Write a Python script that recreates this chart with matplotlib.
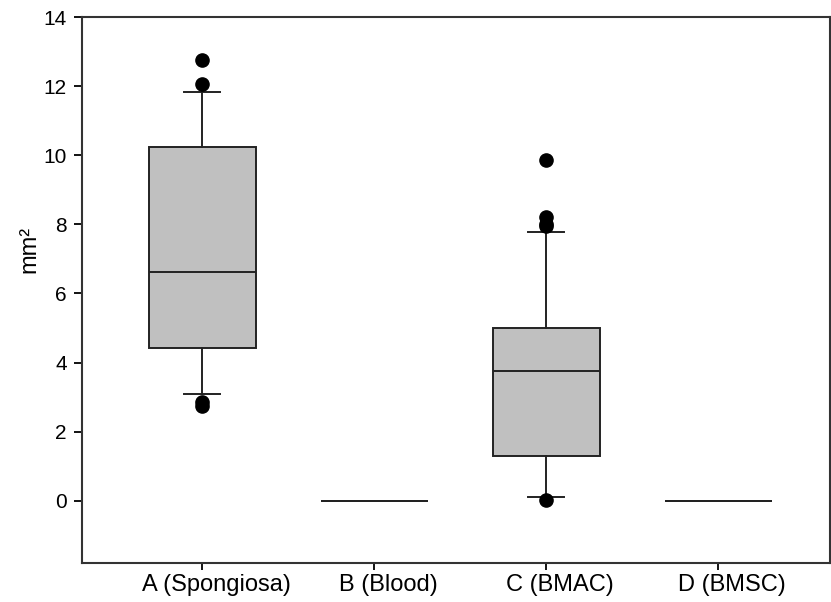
import matplotlib.pyplot as plt
import matplotlib.transforms as mtransforms

plt.rcParams['font.family'] = ['Liberation Sans', 'DejaVu Sans']

# groups and box statistics
groups = ['A (Spongiosa)', 'B (Blood)', 'C (BMAC)', 'D (BMSC)']
q1 = [4.42, 0.0, 1.29, 0.0]
median = [6.62, 0.0, 3.77, 0.0]
q3 = [10.23, 0.0, 5.0, 0.0]
whis_lo = [3.09, 0.0, 0.10, 0.0]
whis_hi = [11.82, 0.0, 7.77, 0.0]
outliers = [[12.75, 12.06, 2.85, 2.74], [], [9.87, 8.22, 8.02, 7.95, 0.02], []]

stats = []
for i, g in enumerate(groups):
    stats.append({'label': g, 'q1': q1[i], 'med': median[i], 'q3': q3[i],
                  'whislo': whis_lo[i], 'whishi': whis_hi[i], 'fliers': outliers[i]})

fig = plt.figure(figsize=(8.31, 6.02), dpi=100)
ax = fig.add_axes([82 / 831, 1 - 563 / 602, 748 / 831, (563 - 17) / 602])

# the all-zero groups only get a flat line, no whiskers or caps
show = [len(o) > 0 or q3[i] > q1[i] for i, o in enumerate(outliers)]
lw = 1.4
for i, s in enumerate(stats):
    pos = i + 1
    ax.bxp([s], positions=[pos], widths=0.62, patch_artist=True,
           showcaps=show[i], capwidths=0.21 if show[i] else None,
           boxprops=dict(facecolor='#c0c0c0', edgecolor='#222222', linewidth=lw),
           medianprops=dict(color='#222222', linewidth=lw),
           whiskerprops=dict(color='#222222', linewidth=lw),
           capprops=dict(color='#222222', linewidth=lw),
           flierprops=dict(marker='o', markerfacecolor='black', markeredgecolor='black',
                           markersize=9.5))

ax.set_xlim(0.30, 4.65)
ax.set_ylim(-1.8, 14)
ax.set_yticks([0, 2, 4, 6, 8, 10, 12, 14])
ax.set_xticks([1, 2, 3, 4])
ax.set_xticklabels(groups)
ax.set_ylabel('mm²', fontsize=17, labelpad=2, y=0.575)

for sp in ax.spines.values():
    sp.set_linewidth(1.5)
    sp.set_color('#333333')
ax.tick_params(axis='y', direction='out', length=6, width=1.3, labelsize=15, pad=5)
ax.tick_params(axis='x', direction='out', length=5, width=1.3, labelsize=17, pad=3)

# category labels sit a bit right of their ticks in the original
shift = mtransforms.ScaledTranslation(14 / 100, 0, fig.dpi_scale_trans)
for lab in ax.get_xticklabels():
    lab.set_transform(lab.get_transform() + shift)

plt.savefig('out.png', dpi=100)
